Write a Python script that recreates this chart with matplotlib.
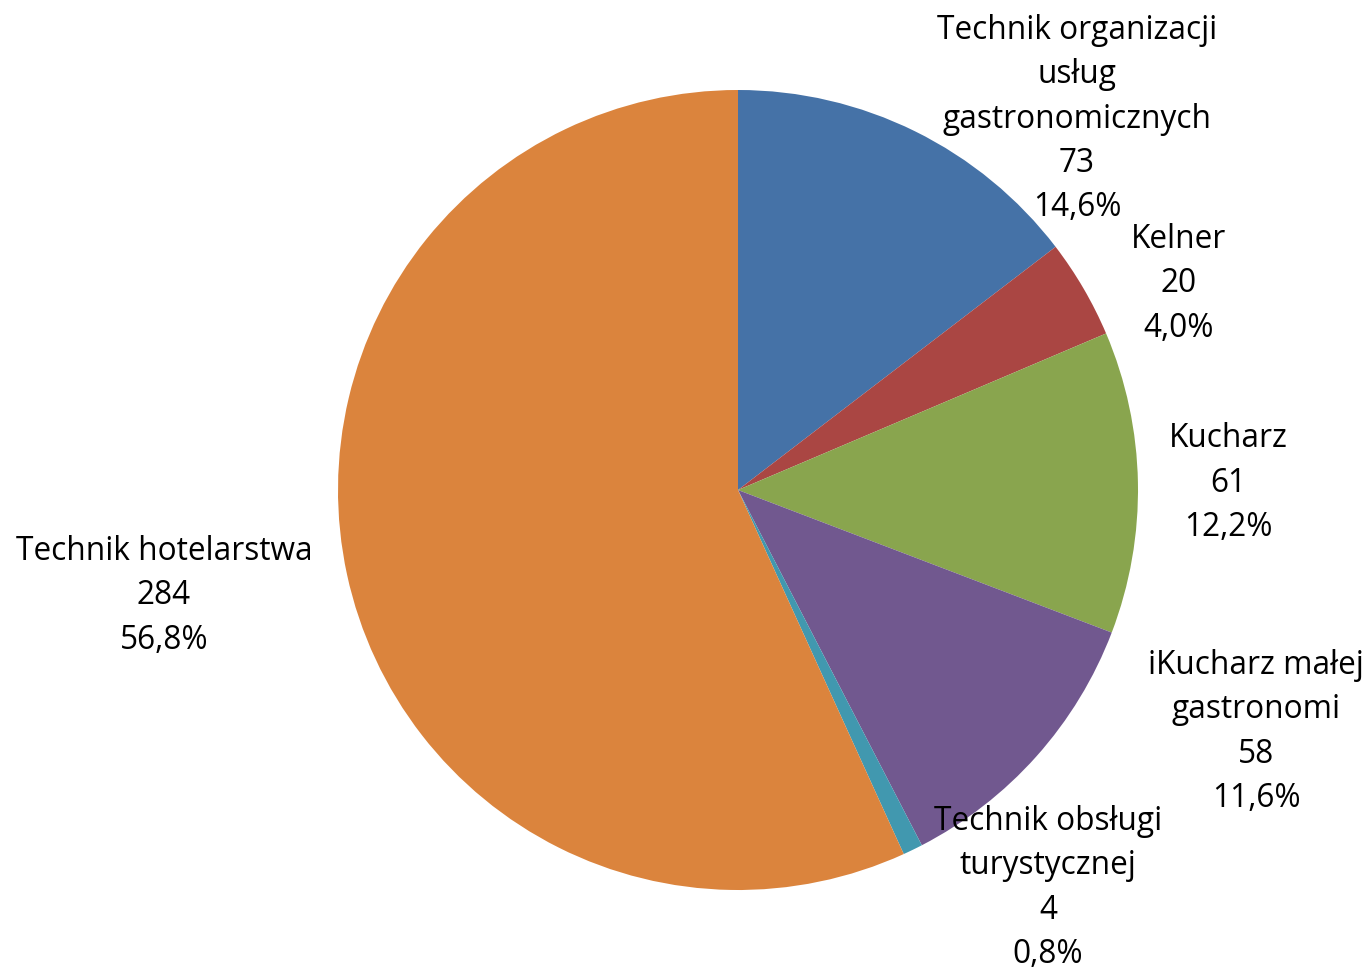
import matplotlib
matplotlib.use("Agg")
import matplotlib.pyplot as plt

categories = ["Technik organizacji\nusług\ngastronomicznych", "Kelner", "Kucharz",
              "iKucharz małej\ngastronomi", "Technik obsługi\nturystycznej", "Technik hotelarstwa"]
values = [73, 20, 61, 58, 4, 284]
percents = ["14,6%", "4,0%", "12,2%", "11,6%", "0,8%", "56,8%"]
colors = ["#4572A7", "#AA4643", "#89A54E", "#71588F", "#4198AF", "#DB843D"]

W, H = 1369, 974
fig = plt.figure(figsize=(W / 100, H / 100), dpi=100)
ax = fig.add_axes([0, 0, 1, 1])

ax.pie(values, colors=colors, startangle=90, counterclock=False,
       center=(738, H - 490), radius=400, frame=True,
       wedgeprops=dict(linewidth=0))
ax.set_xlim(0, W)
ax.set_ylim(0, H)
ax.set_aspect("equal")
ax.axis("off")

# label anchor positions (pixel coords, top-left origin)
label_pos = [(1077, 119), (1179, 284), (1228, 483), (1256, 732), (1048, 888), (164, 596)]
for cat, v, p, (x, y) in zip(categories, values, percents, label_pos):
    ax.text(x, H - y, f"{cat}\n{v}\n{p}", ha="center", va="center",
            fontsize=22.8, family=["Open Sans", "DejaVu Sans"], linespacing=1.45,
            color="black")

fig.savefig("out.png", dpi=100)
